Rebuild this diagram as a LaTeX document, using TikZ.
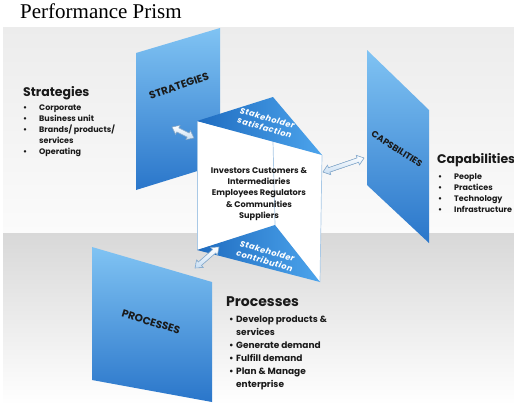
\documentclass[tikz,border=0pt]{standalone}
\usepackage{fontspec}
\setmainfont{Liberation Serif}
\newfontfamily\pop{Poppins}
\newfontfamily\popw{Poppins}[LetterSpace=6]
\usetikzlibrary{calc}
\definecolor{bgtopA}{HTML}{ECECEC}
\definecolor{bgbotA}{HTML}{FBFBFB}
\definecolor{bgtopB}{HTML}{D8D8D8}
\definecolor{bgbotB}{HTML}{FFFFFF}
\definecolor{panlight}{HTML}{80C3F3}
\definecolor{pandark}{HTML}{2A76CA}
\definecolor{trilight}{HTML}{4CA4EC}
\definecolor{tridark}{HTML}{1F6CC0}
\definecolor{edgeblue}{HTML}{A9C9E6}
\definecolor{arrline}{HTML}{8AB0D4}
\definecolor{arrfill}{HTML}{C9DEF2}
\definecolor{inktext}{HTML}{1A1A1A}
\newcommand\bul{\makebox[16pt][l]{\textbullet}}
\newcommand\bulp{\makebox[7pt][l]{\textbullet}}
\newcommand\fatarrow[2]{%
  \coordinate (fa1) at ($(#1)!6.5pt!(#2)$);
  \coordinate (fa2) at ($(#2)!6.5pt!(#1)$);
  \filldraw[fatarr] (#1) -- ($(fa1)!5pt!90:(#2)$) -- ($(fa1)!2.3pt!90:(#2)$)
    -- ($(fa2)!2.3pt!-90:(#1)$) -- ($(fa2)!5pt!-90:(#1)$) -- (#2)
    -- ($(fa2)!5pt!90:(#1)$) -- ($(fa2)!2.3pt!90:(#1)$)
    -- ($(fa1)!2.3pt!-90:(#2)$) -- ($(fa1)!5pt!-90:(#2)$) -- cycle;}
\begin{document}
\begin{tikzpicture}[x=1pt,y=-1pt,
  panel/.style={top color=panlight,bottom color=pandark,draw=none},
  tri/.style={left color=tridark,right color=trilight,draw=none},
  fatarr/.style={draw=arrline,line width=0.6pt,top color=white,bottom color=arrfill},
  paneltext/.style={font=\pop\bfseries\fontsize{10.5}{12}\selectfont,text=inktext,inner sep=0pt},
  tritext/.style={font=\popw\bfseries\itshape\fontsize{8.2}{10}\selectfont,text=white,align=center,inner sep=0pt},
  head/.style={font=\pop\bfseries\fontsize{12.5}{14}\selectfont,text=inktext,inner sep=0pt,anchor=base west},
  listtext/.style={font=\pop\bfseries\fontsize{8}{11}\selectfont,text=inktext,inner sep=0pt,align=left,anchor=north west},
  prismedge/.style={draw=edgeblue,line width=0.7pt}]
\useasboundingbox (0,0) rectangle (514,405);
% backgrounds
\fill[white] (0,0) rectangle (514,405);
\shade[top color=bgtopA,bottom color=bgbotA] (3,27) rectangle (514,233);
\shade[top color=bgtopB,bottom color=bgbotB] (3,233) rectangle (514,405);
% title
\node[font=\fontsize{21}{24}\selectfont,anchor=base west,inner sep=0pt] (title) at (20,18) {Performance Prism};
% panel corners
\coordinate (s1) at (136,53); \coordinate (s2) at (220,28);
\coordinate (s3) at (220,164); \coordinate (s4) at (136,190);
\coordinate (c1) at (367,50); \coordinate (c2) at (429,110);
\coordinate (c3) at (429,243); \coordinate (c4) at (367,185);
\coordinate (p1) at (92,247); \coordinate (p2) at (212,282);
\coordinate (p3) at (212,402); \coordinate (p4) at (92,380);
% prism corners
\coordinate (tl) at (197,121); \coordinate (tt) at (273,97); \coordinate (tr) at (322,155);
\coordinate (mt) at (273,141); \coordinate (mb) at (275,225);
\coordinate (bl) at (197,250); \coordinate (br) at (320,282);
% panels
\shade[panel] (s1) -- (s2) -- (s3) -- (s4) -- cycle;
\shade[panel] (c1) -- (c2) -- (c3) -- (c4) -- cycle;
\shade[panel] (p1) -- (p2) -- (p3) -- (p4) -- cycle;
\node[paneltext,rotate=19] (strat) at (179,86) {STRATEGIES};
\node[paneltext,rotate=-33,font=\pop\bfseries\fontsize{9}{10}\selectfont] (capab) at (397,149) {CAPSBILITIES};
\node[paneltext,rotate=-17] (proc) at (151,322) {PROCESSES};
% prism
\fill[white] (tl) -- (tr) -- (br) -- (mb) -- (bl) -- cycle;
\draw[prismedge] (tl) -- (bl);
\draw[prismedge] (tr) -- (br);
\draw[prismedge] (mt) -- (mb);
\shade[tri] (tl) -- (tt) -- (tr) -- cycle;
\shade[tri] (bl) -- (mb) -- (br) -- cycle;
\node[tritext,rotate=-16] (sat) at (266,123) {Stakeholder\\satisfaction};
\node[tritext,rotate=-16] (con) at (266,256) {Stakeholder\\contribution};
\node[font=\pop\bfseries\fontsize{8.2}{11.3}\selectfont,align=center,text=inktext,inner sep=0pt] (stake) at (259,194)
  {Investors Customers \&\\Intermediaries\\Employees Regulators\\\& Communities\\Suppliers};
% arrows
\coordinate (a1s) at (172,127); \coordinate (a1e) at (194,138);
\coordinate (a2s) at (323,172); \coordinate (a2e) at (364,158);
\coordinate (a3s) at (195,268); \coordinate (a3e) at (219,247);
\fatarrow{a1s}{a1e}
\fatarrow{a2s}{a2e}
\fatarrow{a3s}{a3e}
% side texts
\node[head] (shead) at (23,96) {Strategies};
\node[listtext] (slist) at (23,105) {\bul Corporate\\\bul Business unit\\\bul Brands/ products/\\\hspace*{16pt}services\\\bul Operating};
\node[head] (chead) at (437,163) {Capabilities};
\node[listtext] (clist) at (438,173) {\bul People\\\bul Practices\\\bul Technology\\\bul Infrastructure};
\node[head,font=\pop\bfseries\fontsize{14}{16}\selectfont] (phead) at (226,306) {Processes};
\node[listtext,font=\pop\bfseries\fontsize{9}{13}\selectfont] (plist) at (229,316) {\bulp Develop products \&\\\hspace*{7pt}services\\\bulp Generate demand\\\bulp Fulfill demand\\\bulp Plan \& Manage\\\hspace*{7pt}enterprise};
\end{tikzpicture}
\end{document}
